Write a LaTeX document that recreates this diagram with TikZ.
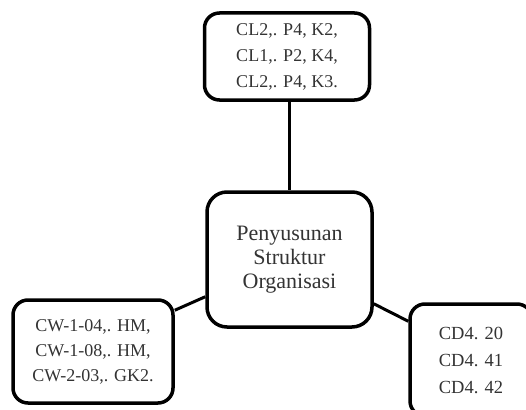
\documentclass[tikz,border=0pt]{standalone}
\usepackage{fontspec}
\setmainfont{Liberation Serif}

\tikzset{
	box/.style={draw, line width=3.5pt, rounded corners=15pt, align=center,
		text=black!80, inner sep=0pt, font=\fontsize{18}{26}\selectfont},
	link/.style={line width=3pt},
}

\begin{document}
\begin{tikzpicture}[x=1pt, y=1pt]
		\clip (0,0) rectangle (526,-409);

		% Top box
		\node[box, minimum width=165pt, minimum height=87pt] (cl) at (287,-56.5)
			{CL2,. P4, K2,\\CL1,. P2, K4,\\CL2,. P4, K3.};

		% Centre box
		\node[box, rounded corners=20pt, minimum width=165pt, minimum height=135pt,
			font=\fontsize{22}{24}\selectfont] (org) at (289.5,-259.5)
			{Penyusunan\\Struktur\\Organisasi};

		% Left box
		\node[box, minimum width=160pt, minimum height=103pt,
			font=\fontsize{18}{25}\selectfont] (cw) at (93,-351.5)
			{CW-1-04,. HM,\\CW-1-08,. HM,\\CW-2-03,. GK2.};

		% Right box
		\node[box, minimum width=122pt, minimum height=112pt,
			font=\fontsize{18.5}{27}\selectfont] (cd) at (471,-360)
			{CD4. 20\\CD4. 41\\CD4. 42};

		% Connectors
		\draw[link] (org.north |- cl.south) -- (org.north);
		\draw[link] ([yshift=-12pt]cw.north east) -- ([yshift=32pt]org.south west);
		\draw[link] ([yshift=25pt]org.south east) -- ([yshift=-19pt]cd.north west);

\end{tikzpicture}
\end{document}
